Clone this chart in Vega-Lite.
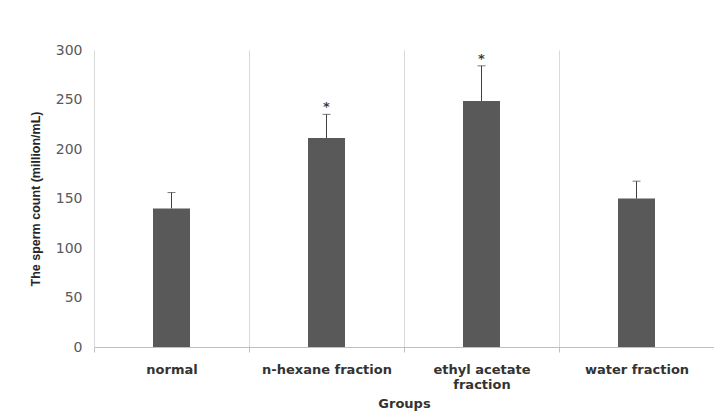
{
  "$schema": "https://vega.github.io/schema/vega-lite/v6.json",
  "autosize": {"type": "none"},
  "padding": {"left": 94, "top": 50, "right": 0, "bottom": 65},
  "width": 620,
  "height": 297,
  "background": "white",
  "config": {
    "view": {"stroke": null},
    "font": "DejaVu Sans"
  },
  "data": {
    "values": [
      {"group": "normal", "mean": 140, "upper": 156, "star": ""},
      {"group": "n-hexane fraction", "mean": 211, "upper": 235, "star": "*"},
      {"group": "ethyl acetate fraction", "mean": 248.5, "upper": 284, "star": "*"},
      {"group": "water fraction", "mean": 150, "upper": 167.5, "star": ""}
    ]
  },
  "encoding": {
    "x": {
      "field": "group",
      "type": "nominal",
      "sort": null,
      "scale": {"paddingInner": 0, "paddingOuter": 0},
      "axis": {
        "title": "Groups",
        "titleFont": "DejaVu Sans",
        "titleFontSize": 13,
        "titleFontWeight": "bold",
        "titleColor": "#333333",
        "titlePadding": 6,
        "labelAngle": 0,
        "labelFont": "DejaVu Sans",
        "labelFontSize": 13,
        "labelFontWeight": "bold",
        "labelColor": "#333333",
        "labelPadding": 11,
        "labelLineHeight": 15,
        "labelExpr": "datum.label == 'ethyl acetate fraction' ? ['ethyl acetate', 'fraction'] : datum.label",
        "bandPosition": 0,
        "grid": true,
        "gridColor": "#d9d9d9",
        "gridWidth": 1,
        "domainColor": "#bfbfbf",
        "tickColor": "#bfbfbf",
        "tickSize": 5,
        "tickBand": "extent"
      }
    }
  },
  "layer": [
    {
      "mark": {"type": "bar", "size": 37, "color": "#595959"},
      "encoding": {
        "y": {
          "field": "mean",
          "type": "quantitative",
          "scale": {"domain": [0, 300]},
          "axis": {
            "title": "The sperm count  (million/mL)",
            "titleFont": "Liberation Sans",
            "titleFontSize": 12.5,
            "titleFontWeight": "bold",
            "titleColor": "#262626",
            "titlePadding": 13,
            "values": [0, 50, 100, 150, 200, 250, 300],
            "labelFont": "DejaVu Sans",
            "labelFontSize": 14,
            "labelColor": "#595959",
            "labelPadding": 12,
            "ticks": false,
            "grid": false,
            "domainColor": "#d9d9d9"
          }
        }
      }
    },
    {
      "mark": {"type": "rule", "color": "#404040", "strokeWidth": 1},
      "encoding": {
        "y": {"field": "mean", "type": "quantitative"},
        "y2": {"field": "upper"}
      }
    },
    {
      "mark": {"type": "tick", "color": "#404040", "size": 8, "thickness": 1},
      "encoding": {
        "y": {"field": "upper", "type": "quantitative"}
      }
    },
    {
      "mark": {"type": "text", "color": "#404040", "fontSize": 13, "fontWeight": "bold", "baseline": "middle"},
      "encoding": {
        "y": {"field": "upper", "type": "quantitative"},
        "text": {"field": "star"},
        "yOffset": {"value": -7}
      }
    }
  ]
}
